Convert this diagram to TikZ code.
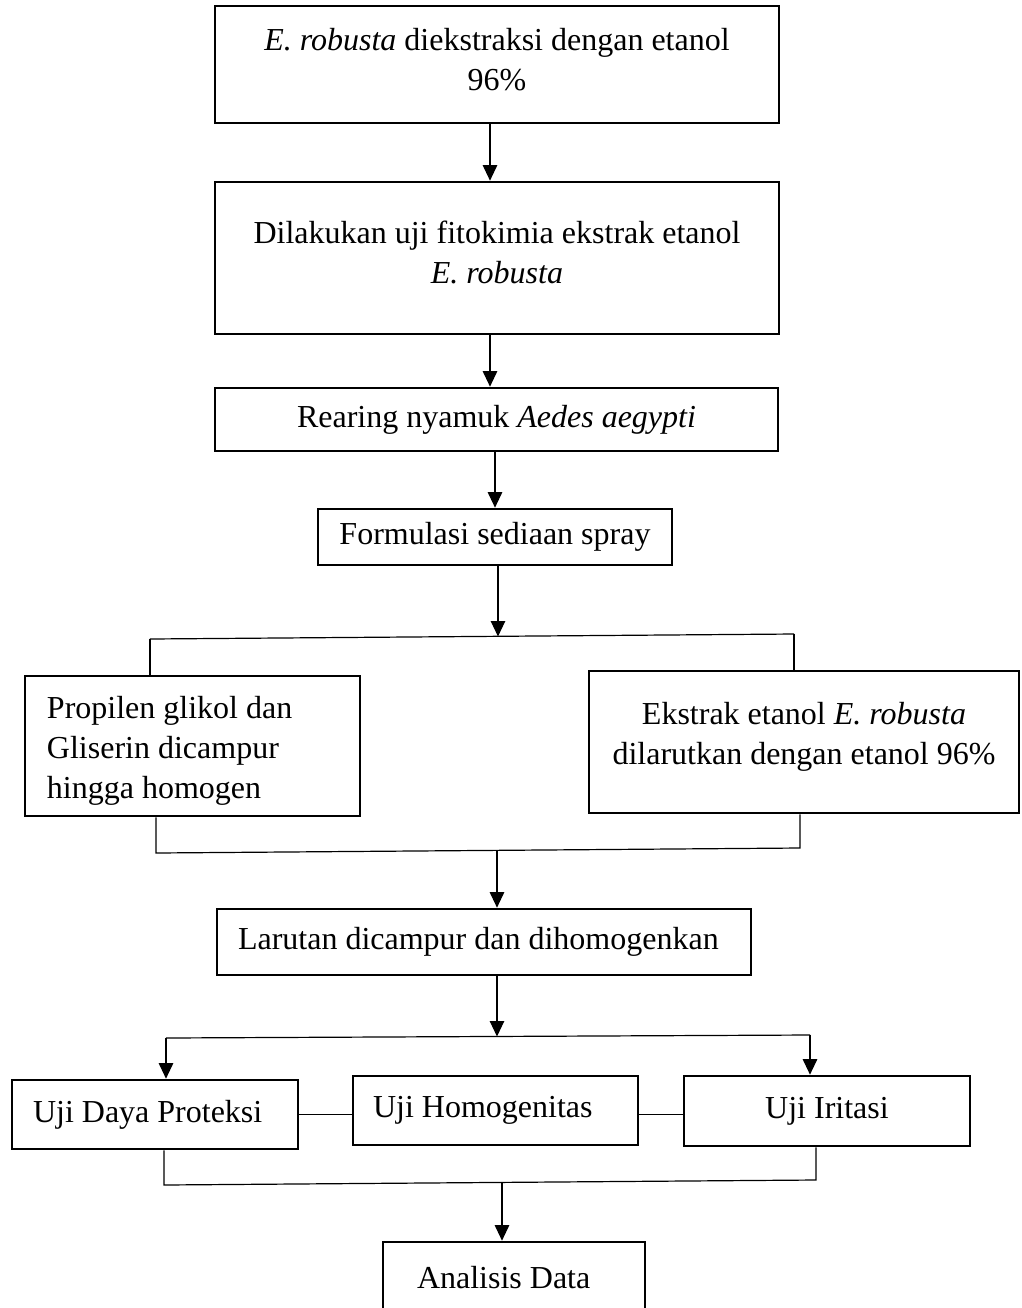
\documentclass[tikz,border=0pt]{standalone}
\usepackage{fontspec}
\setmainfont{Liberation Serif}
\usetikzlibrary{arrows.meta,calc}
\newcommand{\pxu}{0.375pt}
\newcommand{\deepen}[1]{\rule[-#1]{0pt}{#1}}

\begin{document}
\begin{tikzpicture}[x=0.375pt,y=-0.375pt]
        \tikzset{block/.style= {draw, rectangle, line width=1pt, align=center, inner sep=0pt, font=\fontsize{12}{15}\selectfont},
        lblock/.style={block, align=flush left},
        >={Triangle[length=5.8pt,width=5.4pt]},
        every path/.style={line width=0.45pt}
        }
        \useasboundingbox (0,0) rectangle (1022,1308);

        \node [block, minimum width=564*\pxu, minimum height=117*\pxu] (extract) at (497,64.5) {\textit{E. robusta} diekstraksi dengan etanol\\96\%\deepen{4.1pt}};
        \node [block, minimum width=564*\pxu, minimum height=152*\pxu] (fito) at (497,258) {Dilakukan uji fitokimia ekstrak etanol\\\textit{E. robusta}\deepen{4.6pt}};
        \node [block, minimum width=563*\pxu, minimum height=63*\pxu] (rearing) at (496.5,419.5) {Rearing nyamuk \textit{Aedes aegypti}};
        \node [block, minimum width=354*\pxu, minimum height=56*\pxu] (formulasi) at (495,537) {Formulasi sediaan spray};
        \node [lblock, text width=291*\pxu, minimum width=335*\pxu, minimum height=140*\pxu] (propilen) at (192.5,746) {\rule{0pt}{12pt}Propilen glikol dan\\Gliserin dicampur\\hingga homogen};
        \node [block, minimum width=430*\pxu, minimum height=142*\pxu] (ekstrak) at (804,742) {Ekstrak etanol \textit{E. robusta}\\dilarutkan dengan etanol 96\%\deepen{6.3pt}};
        \node [lblock, text width=492*\pxu, minimum width=534*\pxu, minimum height=66*\pxu] (larutan) at (484,942) {Larutan dicampur dan dihomogenkan};
        \node [lblock, text width=244*\pxu, minimum width=286*\pxu, minimum height=69*\pxu] (ujidaya) at (155,1114.5) {Uji Daya Proteksi};
        \node [lblock, text width=245*\pxu, minimum width=285*\pxu, minimum height=69*\pxu] (ujihomo) at (495.5,1110.5) {Uji Homogenitas};
        \node [block, minimum width=286*\pxu, minimum height=70*\pxu] (ujiiri) at (827,1111) {Uji Iritasi};
        \node [lblock, text width=194*\pxu, minimum width=262*\pxu, minimum height=72*\pxu] (analisis) at (514,1278) {Analisis Data};

        % branch and join points
        \coordinate (split1) at (498,636.5);
        \coordinate (s1L) at (150,639);
        \coordinate (s1R) at (794,634);
        \coordinate (m1L) at (156,853);
        \coordinate (m1R) at (800,848);
        \coordinate (merge1) at (497,850.5);
        \coordinate (split2) at (497,1036.5);
        \coordinate (s2L) at (166,1038);
        \coordinate (s2R) at (810,1035);
        \coordinate (m2L) at (164,1185);
        \coordinate (m2R) at (816,1180);
        \coordinate (merge2) at (502,1182.5);

%% paths
        \path[->] ($(extract.south)+(-7,0)$) edge ($(fito.north)+(-7,0)$)
                    ($(fito.south)+(-7,0)$) edge ($(rearing.north)+(-6.5,0)$)
                    (rearing.south -| formulasi.north) edge (formulasi.north)
                    (formulasi.south -| split1) edge (split1);
        \draw (s1L) -- (s1R);
        \draw (s1L) -- (s1L |- propilen.north);
        \draw (s1R) -- (s1R |- ekstrak.north);
        \draw (propilen.south -| m1L) -- (m1L) -- (m1R) -- (ekstrak.south -| m1R);
        \path[->] (merge1) edge (merge1 |- larutan.north)
                    (larutan.south -| split2) edge (split2);
        \draw (s2L) -- (s2R);
        \path[->] (s2L) edge (s2L |- ujidaya.north)
                    (s2R) edge (s2R |- ujiiri.north);
        \draw (ujidaya.east) -- (ujidaya.east -| ujihomo.west);
        \draw (ujidaya.east -| ujihomo.east) -- (ujidaya.east -| ujiiri.west);
        \draw (ujidaya.south -| m2L) -- (m2L) -- (m2R) -- (ujiiri.south -| m2R);
        \path[->] (merge2) edge (merge2 |- analisis.north);
\end{tikzpicture}
\end{document}
